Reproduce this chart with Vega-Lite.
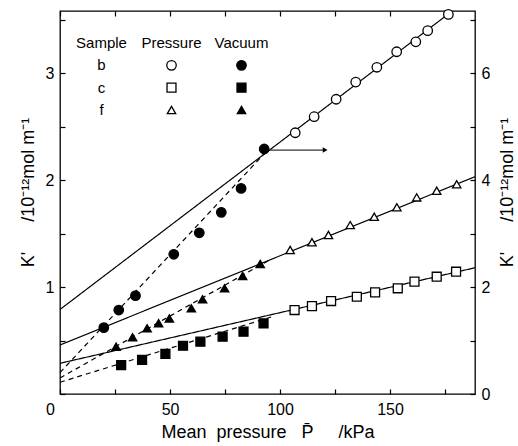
{
  "$schema": "https://vega.github.io/schema/vega-lite/v6.json",
  "width": 415,
  "height": 383,
  "autosize": "none",
  "padding": {"left": 60, "top": 11, "right": 43, "bottom": 52},
  "background": "white",
  "config": {
    "view": {"stroke": "black", "strokeWidth": 1.3},
    "font": "Liberation Sans",
    "axis": {
      "grid": false, "domain": false, "tickColor": "black", "labelColor": "black", "titleColor": "black",
      "labelFont": "Liberation Sans", "titleFont": "Liberation Sans", "labelFontSize": 16, "titleFontSize": 18,
      "titleFontWeight": "normal", "tickSize": 5, "offset": -5, "tickWidth": 1.2, "labelFlush": false, "labelOverlap": false
    }
  },
  "datasets": {
    "points": [
      {"sample": "b", "mode": "Pressure", "P": 106.9, "K": 2.442},
      {"sample": "b", "mode": "Pressure", "P": 115.5, "K": 2.592},
      {"sample": "b", "mode": "Pressure", "P": 125.5, "K": 2.755},
      {"sample": "b", "mode": "Pressure", "P": 134.4, "K": 2.916},
      {"sample": "b", "mode": "Pressure", "P": 144.0, "K": 3.054},
      {"sample": "b", "mode": "Pressure", "P": 153.0, "K": 3.199},
      {"sample": "b", "mode": "Pressure", "P": 161.7, "K": 3.292},
      {"sample": "b", "mode": "Pressure", "P": 167.1, "K": 3.396},
      {"sample": "b", "mode": "Pressure", "P": 176.5, "K": 3.548},
      {"sample": "b", "mode": "Vacuum", "P": 19.9, "K": 0.62},
      {"sample": "b", "mode": "Vacuum", "P": 26.7, "K": 0.785},
      {"sample": "b", "mode": "Vacuum", "P": 34.3, "K": 0.919},
      {"sample": "b", "mode": "Vacuum", "P": 51.7, "K": 1.306},
      {"sample": "b", "mode": "Vacuum", "P": 63.3, "K": 1.507},
      {"sample": "b", "mode": "Vacuum", "P": 73.3, "K": 1.698},
      {"sample": "b", "mode": "Vacuum", "P": 82.3, "K": 1.922},
      {"sample": "b", "mode": "Vacuum", "P": 92.8, "K": 2.29},
      {"sample": "c", "mode": "Pressure", "P": 106.6, "K": 0.785},
      {"sample": "c", "mode": "Pressure", "P": 114.5, "K": 0.822},
      {"sample": "c", "mode": "Pressure", "P": 123.2, "K": 0.869},
      {"sample": "c", "mode": "Pressure", "P": 134.9, "K": 0.909},
      {"sample": "c", "mode": "Pressure", "P": 143.2, "K": 0.95},
      {"sample": "c", "mode": "Pressure", "P": 153.5, "K": 0.988},
      {"sample": "c", "mode": "Pressure", "P": 161.1, "K": 1.05},
      {"sample": "c", "mode": "Pressure", "P": 171.2, "K": 1.096},
      {"sample": "c", "mode": "Pressure", "P": 180.0, "K": 1.143},
      {"sample": "c", "mode": "Vacuum", "P": 27.8, "K": 0.271},
      {"sample": "c", "mode": "Vacuum", "P": 37.3, "K": 0.318},
      {"sample": "c", "mode": "Vacuum", "P": 47.9, "K": 0.374},
      {"sample": "c", "mode": "Vacuum", "P": 55.9, "K": 0.451},
      {"sample": "c", "mode": "Vacuum", "P": 63.8, "K": 0.489},
      {"sample": "c", "mode": "Vacuum", "P": 73.9, "K": 0.536},
      {"sample": "c", "mode": "Vacuum", "P": 83.4, "K": 0.582},
      {"sample": "c", "mode": "Vacuum", "P": 92.5, "K": 0.661},
      {"sample": "f", "mode": "Pressure", "P": 104.6, "K": 1.346},
      {"sample": "f", "mode": "Pressure", "P": 114.5, "K": 1.418},
      {"sample": "f", "mode": "Pressure", "P": 122.0, "K": 1.486},
      {"sample": "f", "mode": "Pressure", "P": 131.9, "K": 1.579},
      {"sample": "f", "mode": "Pressure", "P": 142.8, "K": 1.657},
      {"sample": "f", "mode": "Pressure", "P": 153.1, "K": 1.745},
      {"sample": "f", "mode": "Pressure", "P": 162.1, "K": 1.838},
      {"sample": "f", "mode": "Pressure", "P": 171.2, "K": 1.9},
      {"sample": "f", "mode": "Pressure", "P": 180.3, "K": 1.96},
      {"sample": "f", "mode": "Vacuum", "P": 25.5, "K": 0.442},
      {"sample": "f", "mode": "Vacuum", "P": 33.0, "K": 0.53},
      {"sample": "f", "mode": "Vacuum", "P": 39.6, "K": 0.614},
      {"sample": "f", "mode": "Vacuum", "P": 44.8, "K": 0.661},
      {"sample": "f", "mode": "Vacuum", "P": 49.7, "K": 0.707},
      {"sample": "f", "mode": "Vacuum", "P": 59.7, "K": 0.801},
      {"sample": "f", "mode": "Vacuum", "P": 64.8, "K": 0.885},
      {"sample": "f", "mode": "Vacuum", "P": 74.8, "K": 0.988},
      {"sample": "f", "mode": "Vacuum", "P": 83.0, "K": 1.103},
      {"sample": "f", "mode": "Vacuum", "P": 91.0, "K": 1.215}
    ],
    "fits": [
      {"line": "b-solid", "style": "solid", "P": 0, "K": 0.79},
      {"line": "b-solid", "style": "solid", "P": 177, "K": 3.56},
      {"line": "f-solid", "style": "solid", "P": 0, "K": 0.458},
      {"line": "f-solid", "style": "solid", "P": 188.6, "K": 2.031},
      {"line": "c-solid", "style": "solid", "P": 0, "K": 0.287},
      {"line": "c-solid", "style": "solid", "P": 188.6, "K": 1.18},
      {"line": "b-dashed", "style": "dashed", "P": 0, "K": 0.2},
      {"line": "b-dashed", "style": "dashed", "P": 93, "K": 2.25},
      {"line": "f-dashed", "style": "dashed", "P": 0, "K": 0.15},
      {"line": "f-dashed", "style": "dashed", "P": 95, "K": 1.25},
      {"line": "c-dashed", "style": "dashed", "P": 0, "K": 0.11},
      {"line": "c-dashed", "style": "dashed", "P": 96, "K": 0.72}
    ],
    "arrow": [
      {"P": 95.5, "P2": 120.5, "K": 2.28}
    ],
    "legend": [
      {"col": "Sample", "row": "head", "text": "Sample"},
      {"col": "Pressure", "row": "head", "text": "Pressure"},
      {"col": "Vacuum", "row": "head", "text": "Vacuum"},
      {"col": "Sample", "row": "b", "text": "b"},
      {"col": "Sample", "row": "c", "text": "c"},
      {"col": "Sample", "row": "f", "text": "f"},
      {"col": "Pressure", "row": "b", "sample": "b", "mode": "Pressure"},
      {"col": "Vacuum", "row": "b", "sample": "b", "mode": "Vacuum"},
      {"col": "Pressure", "row": "c", "sample": "c", "mode": "Pressure"},
      {"col": "Vacuum", "row": "c", "sample": "c", "mode": "Vacuum"},
      {"col": "Pressure", "row": "f", "sample": "f", "mode": "Pressure"},
      {"col": "Vacuum", "row": "f", "sample": "f", "mode": "Vacuum"}
    ]
  },
  "layer": [
    {
      "encoding": {
        "x": {
          "field": "P", "type": "quantitative",
          "scale": {"domain": [0, 188.6], "nice": false, "zero": false},
          "axis": {
            "orient": "bottom",
            "values": [0, 25, 50, 75, 100, 125, 150, 175],
            "labelExpr": "datum.value % 50 === 0 ? datum.label : ''",
            "labelOffset": {"condition": {"test": "datum.value === 0", "value": -10}, "value": 0},
            "labelPadding": 7,
            "title": "Mean\u00a0\u00a0pressure\u00a0\u00a0\u00a0P̄\u00a0\u00a0\u00a0\u00a0\u00a0/kPa",
            "titlePadding": 6,
            "titleFontSize": 18
          }
        },
        "y": {
          "field": "K", "type": "quantitative",
          "scale": {"domain": [0, 3.58], "nice": false},
          "axis": {
            "orient": "left",
            "values": [0, 0.5, 1, 1.5, 2, 2.5, 3, 3.5],
            "labelExpr": "datum.value >= 1 && datum.value % 1 === 0 ? format(datum.value, 'd') : ''",
            "labelPadding": 6,
            "title": "K'\u00a0\u00a0\u00a0\u00a0\u00a0\u00a0/10⁻¹²mol\u00a0m⁻¹",
            "titlePadding": 8,
            "titleY": 181
          }
        }
      },
      "layer": [
        {
          "data": {"name": "fits"},
          "mark": {"type": "line", "color": "black", "strokeWidth": 1.2},
          "encoding": {
            "detail": {"field": "line", "type": "nominal"},
            "strokeDash": {"field": "style", "type": "nominal", "scale": {"domain": ["solid", "dashed"], "range": [[1, 0], [5, 4]]}, "legend": null}
          }
        },
        {
          "data": {"name": "arrow"},
          "mark": {"type": "rule", "color": "black", "strokeWidth": 1},
          "encoding": {"x2": {"field": "P2"}}
        },
        {
          "data": {"name": "arrow"},
          "mark": {"type": "point", "shape": "triangle-right", "filled": true, "color": "black", "size": 30, "opacity": 1},
          "encoding": {"x": {"field": "P2", "type": "quantitative"}}
        },
        {
          "data": {"name": "points"},
          "mark": {"type": "point", "filled": true, "stroke": "black", "strokeWidth": 1.3, "opacity": 1},
          "encoding": {
            "shape": {"field": "sample", "type": "nominal", "scale": {"domain": ["b", "c", "f"], "range": ["circle", "square", "triangle-up"]}, "legend": null},
            "fill": {"field": "mode", "type": "nominal", "scale": {"domain": ["Pressure", "Vacuum"], "range": ["white", "black"]}, "legend": null},
            "size": {"field": "sample", "type": "nominal", "scale": {"domain": ["b", "c", "f"], "range": [90, 70, 100]}, "legend": null}
          }
        }
      ]
    },
    {
      "data": {"name": "arrow"},
      "mark": {"type": "point", "opacity": 0},
      "encoding": {
        "x": {
          "datum": 0, "type": "quantitative",
          "scale": {"domain": [0, 188.6], "nice": false},
          "axis": {"orient": "top", "values": [0, 25, 50, 75, 100, 125, 150, 175], "labels": false, "title": null}
        },
        "y": {
          "datum": 0, "type": "quantitative",
          "scale": {"domain": [0, 7.16], "nice": false},
          "axis": {
            "orient": "right",
            "values": [0, 1, 2, 3, 4, 5, 6, 7],
            "labelExpr": "datum.value % 2 === 0 ? datum.label : ''",
            "labelPadding": 6,
            "title": "K'\u00a0\u00a0\u00a0\u00a0\u00a0\u00a0/10⁻¹²mol\u00a0m⁻¹",
            "titleAngle": -90,
            "titlePadding": 27,
            "titleY": 181
          }
        }
      }
    },
    {
      "data": {"name": "legend"},
      "encoding": {
        "x": {"field": "col", "type": "nominal", "scale": {"type": "point", "domain": ["Sample", "Pressure", "Vacuum"], "range": [41.5, 181.5], "padding": 0}, "axis": null},
        "y": {"field": "row", "type": "nominal", "scale": {"type": "point", "domain": ["head", "b", "c", "f"], "range": [32, 99], "padding": 0}, "axis": null}
      },
      "layer": [
        {
          "transform": [{"filter": "datum.text != null"}],
          "mark": {"type": "text", "fontSize": 15, "font": "Liberation Sans", "color": "black", "align": "center", "baseline": "middle"},
          "encoding": {"text": {"field": "text", "type": "nominal"}}
        },
        {
          "transform": [{"filter": "datum.sample != null"}],
          "mark": {"type": "point", "filled": true, "stroke": "black", "strokeWidth": 1.3, "opacity": 1},
          "encoding": {
            "shape": {"field": "sample", "type": "nominal", "legend": null},
            "fill": {"field": "mode", "type": "nominal", "legend": null},
            "size": {"field": "sample", "type": "nominal", "legend": null}
          }
        }
      ]
    }
  ],
  "resolve": {"scale": {"x": "independent", "y": "independent"}}
}
